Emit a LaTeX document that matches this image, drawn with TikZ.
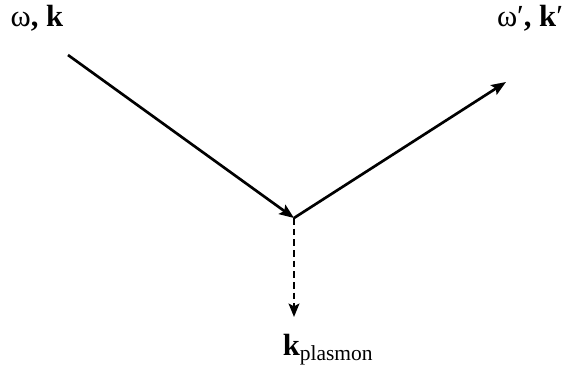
\documentclass[tikz,border=0pt]{standalone}
\usepackage{fontspec}
\setmainfont{Liberation Serif}
\usetikzlibrary{arrows.meta,positioning}

\begin{document}
\begin{tikzpicture}[
    x=0.75pt, y=-0.75pt,
    label/.style={font=\fontsize{23}{25}\selectfont, inner sep=0pt},
    wave/.style={-{Stealth[length=11pt, width=8.5pt, inset=2pt]}, line width=2pt},
    plasmon/.style={-{Stealth[length=10pt, width=8pt, inset=2pt]}, line width=1.8pt, dash pattern=on 5pt off 3pt}
]
\useasboundingbox (0,0) rectangle (585,368);

% Points
\coordinate (start) at (68,55);
\coordinate (vertex) at (294,218);
\coordinate (out) at (506,82);
\coordinate (down) at (294,317);

% Labels
\node[label] (wk) at (37,18) {ω\textbf{, k}};
\node[label] (wkp) at (530,18) {ω′\textbf{, k}′};
\node[label] (kpl) at (328,350) {\textbf{k}\textsubscript{plasmon}};

% Arrows
\draw[wave] (start) -- (vertex);
\draw[wave] (vertex) -- (out);
\draw[plasmon] (vertex) -- (down);

\end{tikzpicture}
\end{document}
